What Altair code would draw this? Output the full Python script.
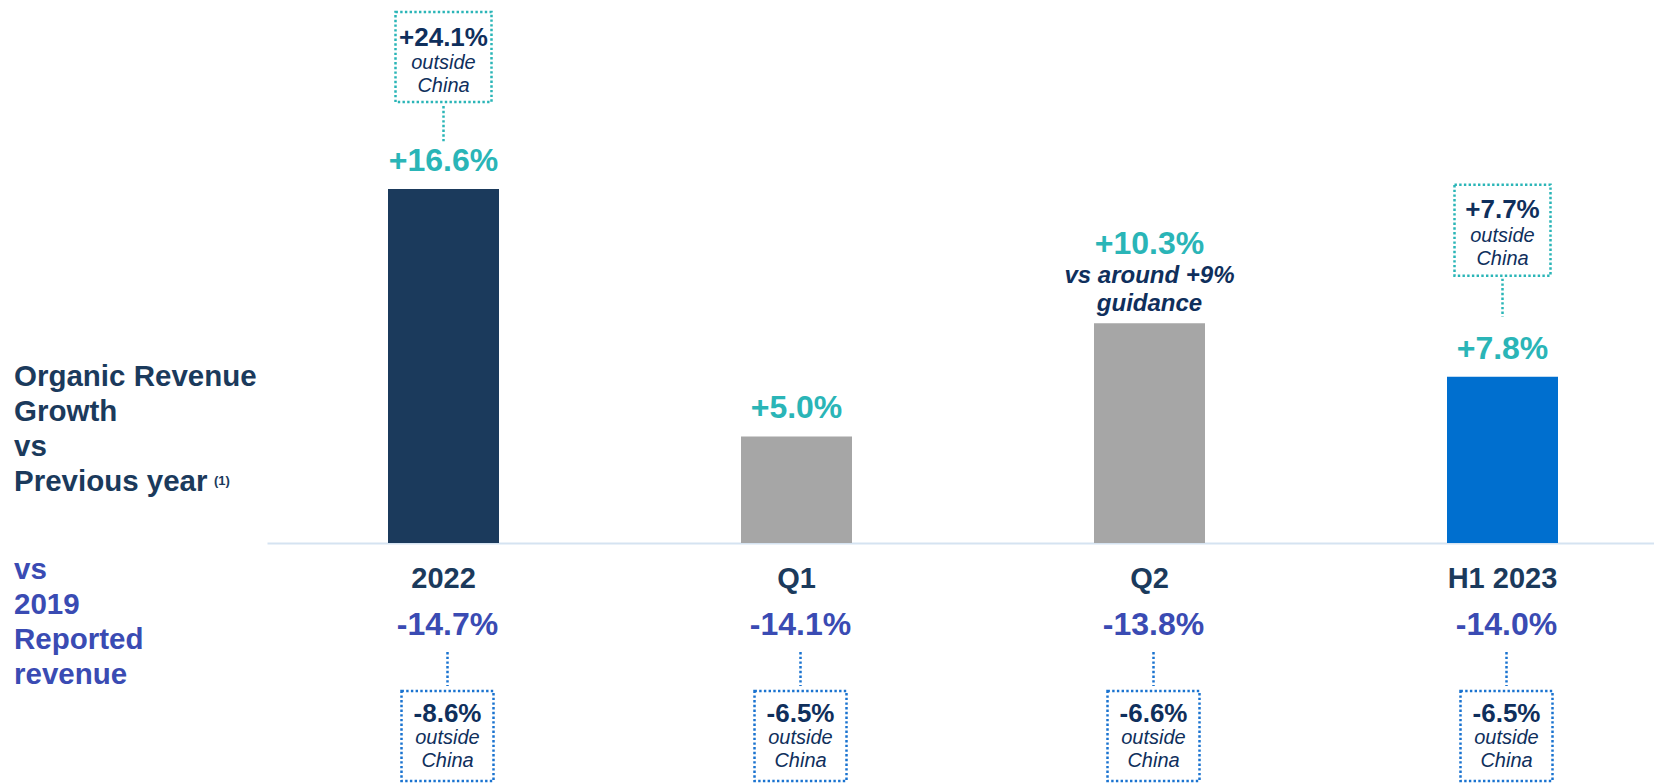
import altair as alt
import pandas as pd

# ---------------- data ----------------
categories = ["2022", "Q1", "Q2", "H1 2023"]
organic_growth = [16.6, 5.0, 10.3, 7.8]            # vs previous year, %
outside_china_growth = [24.1, None, None, 7.7]      # outside China, %
vs_2019_reported = [-14.7, -14.1, -13.8, -14.0]     # vs 2019 reported revenue, %
vs_2019_outside_china = [-8.6, -6.5, -6.6, -6.5]    # vs 2019 outside China, %
q2_note = ["vs around +9%", "guidance"]
box_caption = ["outside", "China"]
left_title_top = ["Organic Revenue", "Growth", "vs", "Previous year"]
left_title_bottom = ["vs", "2019", "Reported", "revenue"]
footnote_ref = "(1)"

df = pd.DataFrame({
    "cat": categories,
    "growth": organic_growth,
    "ocg": outside_china_growth,
    "v19": vs_2019_reported,
    "v19oc": vs_2019_outside_china,
})

# ---------------- style ----------------
FONT = "Liberation Sans"
NAVY = "#1b3a5c"
NAVY_TXT = "#0f2f5c"
TEAL = "#2ab5b7"
INDIGO = "#3a4bb3"
GRAY = "#a6a6a6"
BLUE_BAR = "#006fcf"
BOX_BLUE = "#1a73d0"
AXIS = "#d5e3f1"
bar_colors = [NAVY, GRAY, GRAY, BLUE_BAR]
DASH = [2.4, 2.3]

W, H = 1646, 535

base = alt.Chart(df).encode(
    x=alt.X(
        "cat:N",
        sort=categories,
        scale=alt.Scale(domain=categories, range=[259, 1671], paddingInner=0, paddingOuter=0),
        axis=alt.Axis(labels=False, ticks=False, title=None, grid=False,
                      domainColor=AXIS, domainWidth=2),
    )
)
yenc = alt.Y("growth:Q", scale=alt.Scale(domain=[0, 25.09]), axis=None)

layers = []

# bars
layers.append(
    base.mark_bar(size=111).encode(
        y=yenc,
        color=alt.Color("cat:N", scale=alt.Scale(domain=categories, range=bar_colors), legend=None),
    )
)

# growth labels above bars
glabel = "'+' + format(datum.growth, '.1f') + '%'"
layers.append(
    base.transform_filter("datum.cat != 'Q2'")
    .transform_calculate(lbl=glabel)
    .mark_text(dy=-18, baseline="alphabetic", font=FONT, fontSize=32, fontWeight="bold", color=TEAL)
    .encode(y=yenc, text="lbl:N")
)
layers.append(
    base.transform_filter("datum.cat == 'Q2'")
    .transform_calculate(lbl=glabel)
    .mark_text(dy=-69, baseline="alphabetic", font=FONT, fontSize=32, fontWeight="bold", color=TEAL)
    .encode(y=yenc, text="lbl:N")
)
layers.append(
    base.transform_filter("datum.cat == 'Q2'")
    .mark_text(text=q2_note, dy=-40.6, lineHeight=28.4, baseline="alphabetic", font=FONT,
               fontSize=24, fontWeight="bold", fontStyle="italic", color=NAVY_TXT)
    .encode(y=yenc)
)

# outside-China callouts above bars (box top, box bottom, connector top, connector bottom)
top_offsets = {"2022": (-177, -87, -83, -46), "H1 2023": (-192, -101, -98, -60)}
for cat, (bt, bb, ct, cb) in top_offsets.items():
    sub = base.transform_filter(f"datum.cat == '{cat}'")
    layers.append(
        sub.mark_bar(size=96, fill="white", fillOpacity=0, stroke=TEAL, strokeWidth=2.5,
                     strokeDash=DASH, yOffset=bt, y2Offset=bb)
        .encode(y=yenc, y2=alt.Y2("growth:Q"))
    )
    layers.append(
        sub.mark_rule(stroke=TEAL, strokeWidth=2.5, strokeDash=DASH, yOffset=ct, y2Offset=cb)
        .encode(y=yenc, y2=alt.Y2("growth:Q"))
    )
    layers.append(
        sub.transform_calculate(lbl="'+' + format(datum.ocg, '.1f') + '%'")
        .mark_text(dy=bt + 33.5, baseline="alphabetic", font=FONT, fontSize=26,
                   fontWeight="bold", color=NAVY_TXT)
        .encode(y=yenc, text="lbl:N")
    )
    layers.append(
        sub.mark_text(text=box_caption, dy=bt + 57, lineHeight=23, baseline="alphabetic",
                      font=FONT, fontSize=20, fontStyle="italic", color=NAVY_TXT)
        .encode(y=yenc)
    )

# category labels under the axis
layers.append(
    base.mark_text(baseline="alphabetic", font=FONT, fontSize=29, fontWeight="bold", color=NAVY)
    .encode(y=alt.value(580), text="cat:N")
)

# vs 2019 row
DX = 4
layers.append(
    base.transform_calculate(lbl="'-' + format(abs(datum.v19), '.1f') + '%'")
    .mark_text(dx=DX, baseline="alphabetic", font=FONT, fontSize=32, fontWeight="bold", color=INDIGO)
    .encode(y=alt.value(627), text="lbl:N")
)
layers.append(
    base.mark_rule(xOffset=DX, stroke=BOX_BLUE, strokeWidth=2.5, strokeDash=DASH)
    .encode(y=alt.value(644), y2=alt.value(678))
)
layers.append(
    base.mark_bar(size=92, xOffset=DX, fill="white", fillOpacity=0, stroke=BOX_BLUE,
                  strokeWidth=2.5, strokeDash=DASH)
    .encode(y=alt.value(683), y2=alt.value(773))
)
layers.append(
    base.transform_calculate(lbl="'-' + format(abs(datum.v19oc), '.1f') + '%'")
    .mark_text(dx=DX, baseline="alphabetic", font=FONT, fontSize=26, fontWeight="bold", color=NAVY_TXT)
    .encode(y=alt.value(713.5), text="lbl:N")
)
layers.append(
    base.mark_text(text=box_caption, dx=DX, lineHeight=23, baseline="alphabetic", font=FONT,
                   fontSize=20, fontStyle="italic", color=NAVY_TXT)
    .encode(y=alt.value(736))
)

# left-hand row titles
one = pd.DataFrame({"k": [0]})
layers.append(
    alt.Chart(one).mark_text(text=left_title_top, align="left", baseline="alphabetic", lineHeight=35,
                             font=FONT, fontSize=29.5, fontWeight="bold", color=NAVY)
    .encode(x=alt.value(6), y=alt.value(378))
)
layers.append(
    alt.Chart(one).mark_text(text=footnote_ref, align="left", baseline="alphabetic",
                             font=FONT, fontSize=13, fontWeight="bold", color=NAVY)
    .encode(x=alt.value(206), y=alt.value(477))
)
layers.append(
    alt.Chart(one).mark_text(text=left_title_bottom, align="left", baseline="alphabetic", lineHeight=35,
                             font=FONT, fontSize=29.5, fontWeight="bold", color=INDIGO)
    .encode(x=alt.value(6), y=alt.value(571))
)

chart = (
    alt.layer(*layers)
    .properties(
        width=W,
        height=H,
        autosize=alt.AutoSizeParams(type="none"),
        padding={"left": 0, "top": 0, "right": 0, "bottom": 241},
        background="white",
    )
    .configure_view(stroke=None)
)

chart.save("out.html", embed_options={"renderer": "svg", "actions": False})
